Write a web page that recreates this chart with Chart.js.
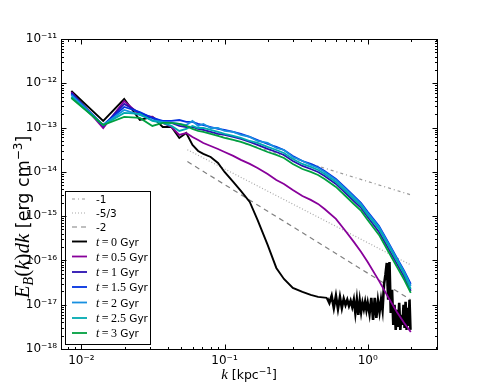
<!DOCTYPE html>
<html>
<head>
<meta charset="utf-8">
<script src="https://cdn.jsdelivr.net/npm/chart.js@4.4.1/dist/chart.umd.min.js"></script>
<style>
  html, body { margin: 0; padding: 0; background: #fff; }
</style>
</head>
<body>
<canvas id="spectrum" width="485" height="388"></canvas>
<script>
// wavenumber bins [kpc^-1]
const kGrid = [0.0085, 0.0142, 0.0199, 0.0256, 0.0313, 0.037, 0.0426, 0.0483, 0.054, 0.0597,
  0.0654, 0.0711, 0.08, 0.09, 0.1, 0.115, 0.13, 0.15, 0.17, 0.2, 0.23, 0.26, 0.3, 0.35, 0.4,
  0.45, 0.5, 0.6, 0.7, 0.8, 0.9, 1.0, 1.2, 1.4, 1.6, 1.8, 2.0];

// t = 0 has a noisy tail, so it gets its own bins
const kBlack = [0.0085, 0.0142, 0.0199, 0.0256, 0.0313, 0.037, 0.0426, 0.0483, 0.054, 0.0597,
  0.0654, 0.0711, 0.08, 0.09, 0.1, 0.115, 0.13, 0.15, 0.17, 0.2, 0.23, 0.26, 0.3, 0.35, 0.4, 0.45,
  0.52, 0.54, 0.56, 0.58, 0.60, 0.62, 0.64, 0.66, 0.68, 0.70, 0.72, 0.74, 0.76, 0.78, 0.80,
  0.82, 0.84, 0.86, 0.88, 0.90, 0.92, 0.94, 0.96, 0.98, 1.00,
  1.03, 1.06, 1.09, 1.12, 1.15, 1.18, 1.21, 1.24, 1.27, 1.30, 1.33, 1.36, 1.39, 1.42, 1.45,
  1.48, 1.51, 1.54, 1.57, 1.60, 1.63, 1.66, 1.69, 1.72, 1.75, 1.78, 1.81, 1.84, 1.87, 1.90,
  1.93, 1.96, 1.99];

const eT0 = [6.70e-13, 1.41e-13, 4.42e-13, 1.48e-13, 1.74e-13, 1.03e-13, 1.03e-13, 5.83e-14, 7.55e-14, 4.05e-14,
  2.96e-14, 2.54e-14, 2.17e-14, 1.59e-14, 9.95e-15, 5.91e-15, 3.70e-15, 2.09e-15, 8.21e-16, 2.24e-16,
  6.77e-17, 3.82e-17, 2.40e-17, 1.95e-17, 1.67e-17, 1.50e-17,
  1.43e-17, 1.10e-17, 1.58e-17, 8.47e-18, 1.58e-17, 8.04e-18, 1.50e-17, 8.47e-18, 1.36e-17, 9.9e-18,
  1.29e-17, 9.4e-18, 1.22e-17, 8.92e-18, 1.29e-17, 6.53e-18, 1.29e-17, 5.89e-18, 1.22e-17, 6.88e-18,
  1.10e-17, 8.04e-18, 1.16e-17, 7.63e-18, 1.10e-17,
  6.20e-18, 1.43e-17, 4.54e-18, 1.43e-17, 5.04e-18, 1.22e-17, 6.88e-18, 1.29e-17, 7.63e-18, 2.80e-17,
  4.70e-17, 8.78e-17, 1.29e-17, 9.25e-17, 6.53e-18, 2.16e-17, 3.50e-18, 9.9e-18, 2.70e-18, 7.63e-18,
  3.15e-18, 1.10e-17, 2.70e-18, 5.89e-18, 3.50e-18, 9.9e-18, 2.99e-18, 1.16e-17, 2.70e-18, 8.47e-18,
  3.32e-18, 1.29e-17, 2.70e-18];

const eT05 = [6.36e-13, 9.79e-14, 3.99e-13, 1.93e-13, 1.74e-13, 1.27e-13, 1.03e-13, 6.81e-14, 7.55e-14, 6.14e-14,
  5.25e-14, 4.49e-14, 3.84e-14, 3.29e-14, 2.81e-14, 2.29e-14, 1.86e-14, 1.51e-14, 1.22e-14, 8.96e-15,
  6.56e-15, 5.33e-15, 3.91e-15, 2.85e-15, 2.33e-15, 1.89e-15, 1.45e-15, 8.65e-16, 4.63e-16, 2.62e-16,
  1.55e-16, 9.25e-17, 3.45e-17, 1.43e-17, 6.88e-18, 3.88e-18, 2.43e-18];

const eT1 = [6.04e-13, 1.09e-13, 3.41e-13, 2.14e-13, 1.65e-13, 1.34e-13, 1.27e-13, 1.09e-13, 1.03e-13, 1.03e-13,
  9.30e-14, 8.83e-14, 7.96e-14, 7.17e-14, 6.81e-14, 6.14e-14, 5.53e-14, 4.73e-14, 4.05e-14, 3.29e-14,
  2.81e-14, 2.41e-14, 1.76e-14, 1.36e-14, 1.16e-14, 9.95e-15, 8.07e-15, 5.33e-15, 3.33e-15, 2.20e-15,
  1.53e-15, 9.59e-16, 4.40e-16, 1.82e-16, 8.34e-17, 4.24e-17, 2.05e-17];

const eT15 = [5.73e-13, 1.14e-13, 2.92e-13, 2.25e-13, 1.65e-13, 1.41e-13, 1.41e-13, 1.48e-13, 1.34e-13, 1.34e-13,
  1.21e-13, 1.14e-13, 1.03e-13, 9.30e-14, 8.83e-14, 7.96e-14, 7.17e-14, 6.14e-14, 5.25e-14, 4.26e-14,
  3.65e-14, 3.12e-14, 2.29e-14, 1.76e-14, 1.51e-14, 1.29e-14, 1.05e-14, 6.91e-15, 4.33e-15, 2.85e-15,
  1.98e-15, 1.25e-15, 6.01e-16, 2.49e-16, 1.14e-16, 5.79e-17, 2.95e-17];

const eT2 = [5.44e-13, 1.14e-13, 2.50e-13, 1.93e-13, 1.48e-13, 1.34e-13, 1.27e-13, 1.21e-13, 1.14e-13, 1.41e-13,
  1.09e-13, 1.21e-13, 9.79e-14, 9.79e-14, 8.38e-14, 7.96e-14, 6.81e-14, 6.14e-14, 4.98e-14, 4.49e-14,
  3.46e-14, 3.12e-14, 2.17e-14, 1.76e-14, 1.43e-14, 1.22e-14, 9.95e-15, 6.56e-15, 4.11e-15, 2.71e-15,
  1.88e-15, 1.18e-15, 5.70e-16, 2.36e-16, 1.08e-16, 5.50e-17, 2.66e-17];

const eT25 = [4.91e-13, 1.14e-13, 2.14e-13, 2.03e-13, 1.41e-13, 1.27e-13, 1.09e-13, 8.38e-14, 9.30e-14, 1.09e-13,
  9.79e-14, 9.79e-14, 8.83e-14, 7.96e-14, 7.17e-14, 6.46e-14, 5.83e-14, 4.98e-14, 4.49e-14, 3.65e-14,
  3.12e-14, 2.67e-14, 1.95e-14, 1.51e-14, 1.29e-14, 1.10e-14, 8.96e-15, 5.91e-15, 3.70e-15, 2.44e-15,
  1.70e-15, 1.07e-15, 5.14e-16, 2.13e-16, 9.74e-17, 4.96e-17, 2.28e-17];

const eT3 = [4.66e-13, 1.14e-13, 1.74e-13, 1.65e-13, 1.09e-13, 1.27e-13, 1.27e-13, 1.21e-13, 1.09e-13, 9.30e-14,
  8.38e-14, 7.96e-14, 7.17e-14, 6.46e-14, 5.83e-14, 5.25e-14, 4.73e-14, 4.05e-14, 3.46e-14, 2.81e-14,
  2.41e-14, 2.06e-14, 1.51e-14, 1.16e-14, 9.95e-15, 8.51e-15, 6.91e-15, 4.56e-15, 2.85e-15, 1.88e-15,
  1.31e-15, 8.21e-16, 3.77e-16, 1.55e-16, 7.13e-17, 3.63e-17, 1.85e-17];

// power-law guide lines, end points only
const kRef = [0.055, 2.0];
const refMinus1 = [1.10e-13, 3.03e-15];
const refMinus53 = [3.16e-14, 7.92e-17];
const refMinus2 = [1.71e-14, 1.29e-17];

const xTicks = [1e-2, 1e-1, 1e0];
const yTicks = [1e-18, 1e-17, 1e-16, 1e-15, 1e-14, 1e-13, 1e-12, 1e-11];

const SUP = {'-': '\u207B', '0': '\u2070', '1': '\u00B9', '2': '\u00B2', '3': '\u00B3', '4': '\u2074',
  '5': '\u2075', '6': '\u2076', '7': '\u2077', '8': '\u2078', '9': '\u2079'};
function powLabel(v) {
  const e = Math.round(Math.log10(v));
  return '10' + String(e).split('').map(c => SUP[c]).join('');
}

function pts(ks, vals) {
  return ks.map((k, i) => ({x: k, y: vals[i]}));
}

function line(label, ks, vals, color, width, dash) {
  return {
    label: label,
    data: pts(ks, vals),
    borderColor: color,
    backgroundColor: color,
    borderWidth: width,
    borderDash: dash || [],
    pointRadius: 0,
    tension: 0,
    fill: false
  };
}

const datasets = [
  line('-1', kRef, refMinus1, '#9a9a9a', 1.2, [3, 3, 1, 3]),
  line('-5/3', kRef, refMinus53, '#a8a8a8', 1.2, [1, 2]),
  line('-2', kRef, refMinus2, '#808080', 1.2, [5, 4]),
  line('t=0 Gyr', kBlack, eT0, '#000000', 1.9),
  line('t=0.5 Gyr', kGrid, eT05, '#88009a', 1.8),
  line('t=1 Gyr', kGrid, eT1, '#2a10b0', 1.8),
  line('t=1.5 Gyr', kGrid, eT15, '#0030e0', 1.8),
  line('t=2 Gyr', kGrid, eT2, '#1890e0', 1.8),
  line('t=2.5 Gyr', kGrid, eT25, '#00aab0', 1.8),
  line('t=3 Gyr', kGrid, eT3, '#00a040', 1.8)
];
// thicker strokes where the t = 0 tail oscillates densely
datasets[3].segment = {
  borderWidth: c => (c.p0.parsed.x > 0.5 ? 2.6 : 1.9)
};
// later series on top, as in the original
datasets.forEach((d, i) => { d.order = datasets.length - i; });

const SERIF = '"Liberation Serif", "DejaVu Serif", serif';
const SANS = '"DejaVu Sans", sans-serif';

function drawRuns(ctx, runs, x, y, align) {
  let total = 0;
  runs.forEach(r => { ctx.font = r.font; r.w = ctx.measureText(r.t).width; total += r.w; });
  let cx = align === 'center' ? x - total / 2 : x;
  runs.forEach(r => {
    ctx.font = r.font;
    ctx.fillText(r.t, cx, y + (r.dy || 0));
    cx += r.w;
  });
}

function legendRuns(label) {
  if (label.startsWith('t=')) {
    const num = label.slice(2, label.indexOf(' '));
    return [
      {t: 't', font: 'italic 12px ' + SERIF},
      {t: '\u2009=\u2009' + num, font: '12px ' + SERIF},
      {t: ' Gyr', font: '10.5px ' + SANS}
    ];
  }
  return [{t: label, font: '10.5px ' + SANS}];
}

const legendBox = {
  id: 'legendBox',
  afterDatasetsDraw(chart) {
    const ctx = chart.ctx;
    const rows = [199, 213, 227, 241.5, 256.5, 272, 287, 302.5, 318, 333];
    ctx.save();
    ctx.fillStyle = '#fff';
    ctx.fillRect(65.5, 191.5, 85, 153);
    ctx.strokeStyle = '#000';
    ctx.lineWidth = 1;
    ctx.strokeRect(65.5, 191.5, 85, 153);
    chart.data.datasets.forEach((ds, i) => {
      const y = rows[i];
      ctx.strokeStyle = ds.borderColor;
      ctx.lineWidth = Math.min(ds.borderWidth, 1.9);
      ctx.setLineDash(ds.borderDash);
      ctx.beginPath();
      ctx.moveTo(72, y);
      ctx.lineTo(87, y);
      ctx.stroke();
      ctx.setLineDash([]);
      ctx.fillStyle = '#000';
      ctx.textBaseline = 'alphabetic';
      drawRuns(ctx, legendRuns(ds.label), 96, y + 4, 'left');
    });
    ctx.restore();
  }
};

const frameAndTitles = {
  id: 'frameAndTitles',
  afterDraw(chart) {
    const {ctx, chartArea: a, scales} = chart;
    const L = Math.round(a.left) + 0.5, R = Math.round(a.right) + 0.5;
    const T = Math.round(a.top) + 0.5, B = Math.round(a.bottom) + 0.5;
    ctx.save();
    ctx.strokeStyle = '#000';
    ctx.lineWidth = 1;
    ctx.beginPath();
    for (let e = -3; e <= 1; e++) {
      for (let m = 1; m < 10; m++) {
        const v = m * Math.pow(10, e);
        if (v < scales.x.min || v > scales.x.max) continue;
        const px = Math.round(scales.x.getPixelForValue(v)) + 0.5;
        const len = m === 1 ? 5 : 2.5;
        ctx.moveTo(px, B); ctx.lineTo(px, B - len);
        ctx.moveTo(px, T); ctx.lineTo(px, T + len);
      }
    }
    for (let e = -19; e <= -11; e++) {
      for (let m = 1; m < 10; m++) {
        const v = m * Math.pow(10, e);
        if (v < scales.y.min * 0.999 || v > scales.y.max * 1.001) continue;
        const py = Math.round(scales.y.getPixelForValue(v)) + 0.5;
        const len = m === 1 ? 5 : 2.5;
        ctx.moveTo(L, py); ctx.lineTo(L + len, py);
        ctx.moveTo(R, py); ctx.lineTo(R - len, py);
      }
    }
    ctx.stroke();
    ctx.strokeRect(L, T, R - L, B - T);

    ctx.fillStyle = '#000';
    ctx.textBaseline = 'alphabetic';
    // x title
    drawRuns(ctx, [
      {t: 'k', font: 'italic 15px ' + SERIF},
      {t: ' [kpc', font: '12.5px ' + SANS},
      {t: '\u22121', font: '9px ' + SANS, dy: -5},
      {t: ']', font: '12.5px ' + SANS}
    ], (a.left + a.right) / 2, 379, 'center');
    // y title
    ctx.translate(29, 217);
    ctx.rotate(-Math.PI / 2);
    drawRuns(ctx, [
      {t: 'E', font: 'italic 21px ' + SERIF},
      {t: 'B', font: 'italic 14px ' + SERIF, dy: 4},
      {t: '(', font: '21px ' + SERIF},
      {t: 'k', font: 'italic 21px ' + SERIF},
      {t: ')', font: '21px ' + SERIF},
      {t: 'dk', font: 'italic 21px ' + SERIF},
      {t: ' [erg cm', font: '17.5px ' + SANS},
      {t: '\u22123', font: '12px ' + SANS, dy: -7},
      {t: ']', font: '17.5px ' + SANS}
    ], 0, 0, 'center');
    ctx.restore();
  }
};

new Chart(document.getElementById('spectrum'), {
  type: 'line',
  data: { datasets: datasets },
  options: {
    responsive: false,
    animation: false,
    devicePixelRatio: 1,
    layout: { padding: { left: 0, top: 39, right: 48, bottom: 0 } },
    plugins: {
      legend: { display: false },
      tooltip: { enabled: false }
    },
    scales: {
      x: {
        type: 'logarithmic',
        min: 0.0072,
        max: 3.05,
        afterBuildTicks: axis => { axis.ticks = xTicks.map(v => ({value: v})); },
        afterFit: scale => { scale.height = 39; },
        grid: { display: false, drawTicks: false },
        border: { display: false },
        ticks: {
          callback: v => powLabel(v),
          autoSkip: false,
          maxRotation: 0,
          padding: 5,
          color: '#000',
          font: { family: 'DejaVu Sans', size: 12 }
        }
      },
      y: {
        type: 'logarithmic',
        min: 1e-18,
        max: 1e-11,
        afterBuildTicks: axis => { axis.ticks = yTicks.map(v => ({value: v})); },
        afterFit: scale => { scale.width = 61; },
        grid: { display: false, drawTicks: false },
        border: { display: false },
        ticks: {
          callback: v => powLabel(v),
          autoSkip: false,
          padding: 4,
          color: '#000',
          font: { family: 'DejaVu Sans', size: 12 }
        }
      }
    }
  },
  plugins: [legendBox, frameAndTitles]
});
</script>
</body>
</html>
